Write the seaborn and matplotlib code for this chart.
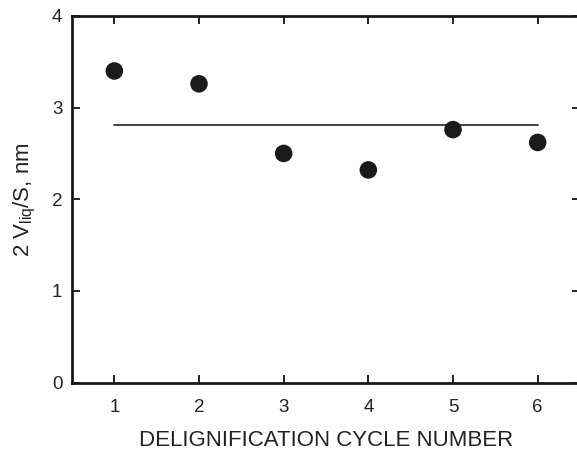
import matplotlib
matplotlib.use("Agg")
import matplotlib.pyplot as plt
import seaborn as sns
import pandas as pd

cycles = [1, 2, 3, 4, 5, 6]
values = [3.40, 3.26, 2.50, 2.32, 2.76, 2.62]
mean_level = 2.81
x_ticks = [1, 2, 3, 4, 5, 6]
y_ticks = [0, 1, 2, 3, 4]

sns.set_theme(style="ticks")
plt.rcParams['font.family'] = ['Liberation Sans', 'DejaVu Sans']
plt.rcParams['mathtext.default'] = 'regular'

df = pd.DataFrame({"cycle": cycles, "value": values})
line_df = pd.DataFrame({"cycle": [cycles[0], cycles[-1]], "value": [mean_level, mean_level]})

fig = plt.figure(figsize=(5.77, 4.51), dpi=100)
ax = fig.add_axes([72/577, 1-382.5/451, (580-72)/577, (382.5-16)/451])

sns.lineplot(data=line_df, x="cycle", y="value", ax=ax, color="#222222", lw=1.2)
sns.scatterplot(data=df, x="cycle", y="value", ax=ax, color="#1a1a1a", s=160,
                edgecolor="none", zorder=3)

ax.set_xlim(0.5, 6.5)
ax.set_ylim(0, 4)
ax.set_xticks(x_ticks)
ax.set_yticks(y_ticks)
ax.tick_params(direction="in", length=6, width=1.4, top=True, right=True,
               labelsize=13.5, colors="#222222", pad=7)
ax.tick_params(axis="x", pad=12)
for sp in ax.spines.values():
    sp.set_linewidth(2.0)
    sp.set_color("#1a1a1a")

ax.set_xlabel("DELIGNIFICATION CYCLE NUMBER", fontsize=16, color="#222222", labelpad=10)
ax.set_ylabel(r"2 V$_{liq}$/S, nm", fontsize=16, color="#222222", labelpad=10)

fig.savefig("out.png", dpi=100)
